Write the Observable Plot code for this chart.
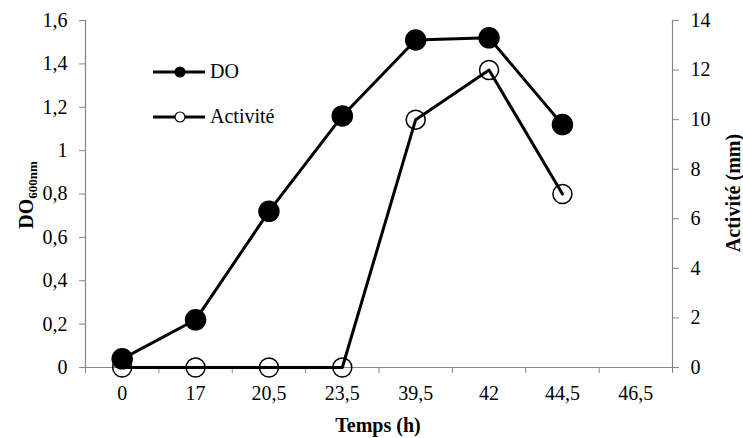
<!DOCTYPE html>
<html>
<head>
<meta charset="utf-8">
<script src="https://cdn.jsdelivr.net/npm/d3@7"></script>
<script src="https://cdn.jsdelivr.net/npm/@observablehq/plot@0.6"></script>
<style>
  html, body { margin: 0; padding: 0; background: #fff; }
  svg text { font-family: "Liberation Serif", "Times New Roman", serif; }
</style>
</head>
<body>
<div id="chart"></div>
<script>
const times = ["0", "17", "20,5", "23,5", "39,5", "42", "44,5", "46,5"];
const doValues = [0.04, 0.22, 0.72, 1.16, 1.51, 1.52, 1.12];
const activite = [0, 0, 0, 0, 10, 12, 7];
const leftTicks = [0, 0.2, 0.4, 0.6, 0.8, 1, 1.2, 1.4, 1.6];
const rightTicks = [0, 2, 4, 6, 8, 10, 12, 14];
const leftMax = 1.6, rightMax = 14;
const k = leftMax / rightMax;

const doData = doValues.map((v, i) => ({i, v}));
const actData = activite.map((v, i) => ({i, v: v * k}));
const bounds = times.map((_, i) => i - 0.5).concat([times.length - 0.5]);
const idx = times.map((_, i) => i);
const comma = d => String(d).replace(".", ",");
const gray = "#868686";
const font = "Liberation Serif";

const chart = Plot.plot({
  width: 743,
  height: 438,
  marginLeft: 85,
  marginRight: 71,
  marginTop: 20,
  marginBottom: 71,
  style: {fontFamily: font, fontSize: "20px", color: "black", background: "white"},
  x: {type: "linear", domain: [-0.5, times.length - 0.5]},
  y: {domain: [0, leftMax]},
  marks: [
    Plot.ruleY([0], {x1: -0.5, x2: times.length - 0.5, stroke: gray, strokeWidth: 1.2}),
    Plot.ruleX([-0.5, times.length - 0.5], {y1: 0, y2: leftMax, stroke: gray, strokeWidth: 1.2}),
    Plot.axisY({anchor: "left", ticks: leftTicks, tickFormat: comma, tickSize: 6, tickPadding: 12, stroke: gray, fill: "black", label: null}),
    Plot.axisY({anchor: "right", ticks: rightTicks.map(v => v * k), tickFormat: d => comma(Math.round(d / k)), tickSize: 6, tickPadding: 12, stroke: gray, fill: "black", label: null}),
    Plot.axisX({ticks: bounds, tickFormat: () => "", tickSize: 6, stroke: gray, label: null}),
    Plot.axisX({ticks: idx, tickFormat: i => times[i], tickSize: 0, tickPadding: 18, fill: "black", label: null}),
    Plot.line(actData, {x: "i", y: "v", stroke: "black", strokeWidth: 3}),
    Plot.dot(actData, {x: "i", y: "v", r: 9.5, stroke: "black", strokeWidth: 1.5, fill: "none"}),
    Plot.line(doData, {x: "i", y: "v", stroke: "black", strokeWidth: 3}),
    Plot.dot(doData, {x: "i", y: "v", r: 10, fill: "black", stroke: "black"})
  ]
});

document.getElementById("chart").appendChild(chart);

const svg = d3.select(chart);
// axis titles
svg.append("text")
  .attr("x", 378).attr("y", 432)
  .attr("text-anchor", "middle")
  .attr("font-family", font).attr("font-weight", "bold").attr("font-size", 20)
  .text("Temps (h)");

const lt = svg.append("text")
  .attr("transform", "translate(33,195) rotate(-90)")
  .attr("text-anchor", "middle")
  .attr("font-family", font).attr("font-weight", "bold").attr("font-size", 20);
lt.append("tspan").text("DO");
lt.append("tspan").attr("font-size", 13).attr("dy", 4).text("600nm");

svg.append("text")
  .attr("transform", "translate(740,193) rotate(-90)")
  .attr("text-anchor", "middle")
  .attr("font-family", font).attr("font-weight", "bold").attr("font-size", 20)
  .text("Activité (mm)");

// legend
const legend = [
  {label: "DO", y: 72, filled: true},
  {label: "Activité", y: 117, filled: false}
];
legend.forEach(d => {
  svg.append("line").attr("x1", 153).attr("x2", 205).attr("y1", d.y).attr("y2", d.y)
    .attr("stroke", "black").attr("stroke-width", 3);
  svg.append("circle").attr("cx", 180).attr("cy", d.y).attr("r", 5)
    .attr("fill", d.filled ? "black" : "white").attr("stroke", "black").attr("stroke-width", 1.2);
  svg.append("text").attr("x", 210).attr("y", d.y).attr("dy", "0.32em")
    .attr("text-anchor", "start")
    .attr("font-family", font).attr("font-size", 20).text(d.label);
});
</script>
</body>
</html>
